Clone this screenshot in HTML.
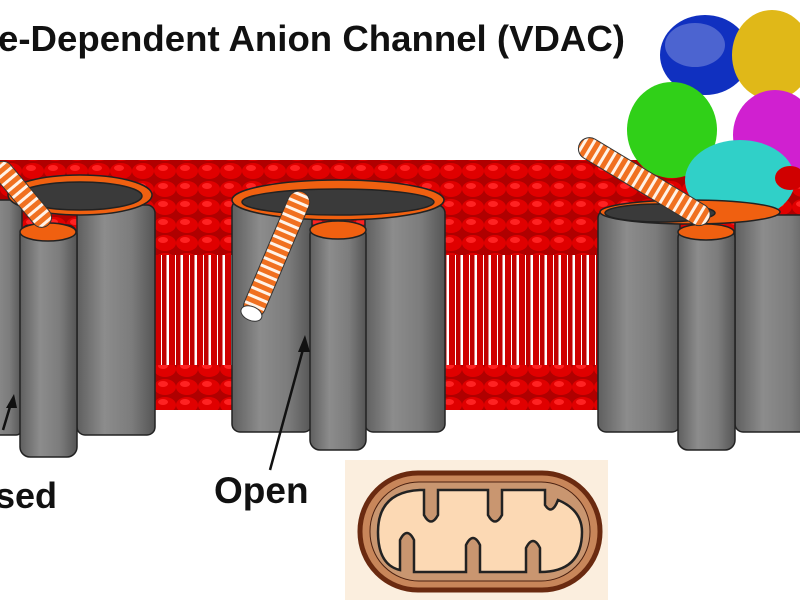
<!DOCTYPE html>
<html><head><meta charset="utf-8"><style>
html,body{margin:0;padding:0;background:#fff;width:800px;height:600px;overflow:hidden}
svg{display:block}
</style></head><body>
<svg width="800" height="600" viewBox="0 0 800 600" xmlns="http://www.w3.org/2000/svg">
<defs>
<linearGradient id="cyl" x1="0" x2="1" y1="0" y2="0">
<stop offset="0" stop-color="#5f5f5f"/><stop offset="0.35" stop-color="#8c8c8c"/><stop offset="0.7" stop-color="#7c7c7c"/><stop offset="1" stop-color="#555"/>
</linearGradient>
<pattern id="heads" width="22" height="18" patternUnits="userSpaceOnUse">
<rect width="22" height="18" fill="#b00000"/>
<ellipse cx="11" cy="9" rx="11" ry="8" fill="#e00000"/>
<ellipse cx="9" cy="6" rx="5" ry="3" fill="#f22"/>
</pattern>
<pattern id="tails" width="14" height="40" patternUnits="userSpaceOnUse">
<rect width="14" height="40" fill="#fff"/>
<rect x="1" y="0" width="6" height="40" fill="#d00000"/>
<rect x="8" y="0" width="4.5" height="40" fill="#c00000"/>
</pattern>
<pattern id="helix" width="8" height="20" patternUnits="userSpaceOnUse">
<rect width="8" height="20" fill="#f07020"/>
<rect x="2" width="3" height="20" fill="#fff3e8"/>
</pattern>
</defs>

<text x="-2" y="51" textLength="627" lengthAdjust="spacingAndGlyphs" font-family="Liberation Sans, sans-serif" font-weight="bold" font-size="36" fill="#111">e-Dependent Anion Channel (VDAC)</text>

<rect x="0" y="160" width="800" height="95" fill="url(#heads)"/>
<rect x="0" y="255" width="800" height="115" fill="url(#tails)"/>
<rect x="0" y="365" width="800" height="45" fill="url(#heads)"/>

<g>
<ellipse cx="705" cy="55" rx="45" ry="40" fill="#1030c0"/>
<ellipse cx="695" cy="45" rx="30" ry="22" fill="#fff" opacity="0.25"/>
<ellipse cx="772" cy="55" rx="40" ry="45" fill="#e0b818"/>
<ellipse cx="672" cy="130" rx="45" ry="48" fill="#30d018"/>
<ellipse cx="775" cy="135" rx="42" ry="45" fill="#d020d0"/>
<ellipse cx="740" cy="180" rx="55" ry="40" fill="#30d0c8"/>
<ellipse cx="790" cy="178" rx="15" ry="12" fill="#d00000"/>
</g>

<g stroke="#222" stroke-width="1.5">
<rect x="-20" y="200" width="42" height="235" rx="6" fill="url(#cyl)"/>
<rect x="77" y="205" width="78" height="230" rx="8" fill="url(#cyl)"/>
<ellipse cx="80" cy="195" rx="72" ry="20" fill="#f06010"/>
<ellipse cx="80" cy="196" rx="62" ry="14" fill="#3a3a3a"/>
<rect x="20" y="225" width="57" height="232" rx="10" fill="url(#cyl)"/>
<ellipse cx="48" cy="232" rx="28" ry="9" fill="#f06010"/>
</g>
<g transform="translate(48,225) rotate(-130)">
<rect x="0" y="-10" width="80" height="20" rx="10" fill="url(#helix)" stroke="#333"/>
</g>

<g stroke="#222" stroke-width="1.5">
<rect x="232" y="200" width="80" height="232" rx="8" fill="url(#cyl)"/>
<rect x="365" y="205" width="80" height="227" rx="8" fill="url(#cyl)"/>
<ellipse cx="338" cy="200" rx="106" ry="20" fill="#f06010"/>
<ellipse cx="338" cy="202" rx="96" ry="13" fill="#3a3a3a"/>
<rect x="310" y="225" width="56" height="225" rx="10" fill="url(#cyl)"/>
<ellipse cx="338" cy="230" rx="28" ry="9" fill="#f06010"/>
</g>
<g transform="translate(303,192) rotate(113)">
<rect x="0" y="-11" width="135" height="22" rx="11" fill="url(#helix)" stroke="#333"/>
<ellipse cx="132" cy="0" rx="7" ry="11" fill="#fff" stroke="#333"/>
</g>

<g stroke="#222" stroke-width="1.5">
<rect x="598" y="210" width="82" height="222" rx="8" fill="url(#cyl)"/>
<rect x="735" y="215" width="80" height="217" rx="8" fill="url(#cyl)"/>
<ellipse cx="690" cy="212" rx="90" ry="12" fill="#f06010"/>
<ellipse cx="660" cy="213" rx="55" ry="9" fill="#3a3a3a"/>
<rect x="678" y="228" width="57" height="222" rx="10" fill="url(#cyl)"/>
<ellipse cx="706" cy="232" rx="28" ry="8" fill="#f06010"/>
</g>
<g transform="translate(580,143) rotate(31)">
<rect x="0" y="-11" width="150" height="22" rx="11" fill="url(#helix)" stroke="#333"/>
</g>

<line x1="270" y1="470" x2="305" y2="342" stroke="#111" stroke-width="2.5"/>
<polygon points="305,335 298,352 310,352" fill="#111"/>
<line x1="3" y1="430" x2="12" y2="400" stroke="#111" stroke-width="2.5"/>
<polygon points="14,394 6,408 17,408" fill="#111"/>
<text x="214" y="503" font-family="Liberation Sans, sans-serif" font-weight="bold" font-size="37" fill="#111">Open</text>
<text x="-5" y="508" font-family="Liberation Sans, sans-serif" font-weight="bold" font-size="36" fill="#111">sed</text>

<rect x="345" y="460" width="263" height="140" fill="#fbeede"/>
<rect x="360" y="473" width="240" height="117" rx="58" fill="#c8865a" stroke="#6a2a10" stroke-width="5"/>
<rect x="370" y="482" width="220" height="99" rx="49" fill="#c99670" stroke="#4a2010" stroke-width="1"/>
<path d="M378,532 Q378,492 420,490 L424,490 L424,515 Q431,528 438,515 L438,490 L488,490 L488,515 Q495,528 502,515 L502,490 L545,490 L545,505 Q552,516 558,500 Q582,510 582,532 Q582,572 540,572 L540,548 Q533,534 526,548 L526,572 L480,572 L480,545 Q473,531 466,545 L466,572 L414,572 L414,540 Q407,526 400,540 L400,570 Q378,565 378,532Z" fill="#fcd9b4" stroke="#222" stroke-width="2.5"/>
</svg>
</body></html>
